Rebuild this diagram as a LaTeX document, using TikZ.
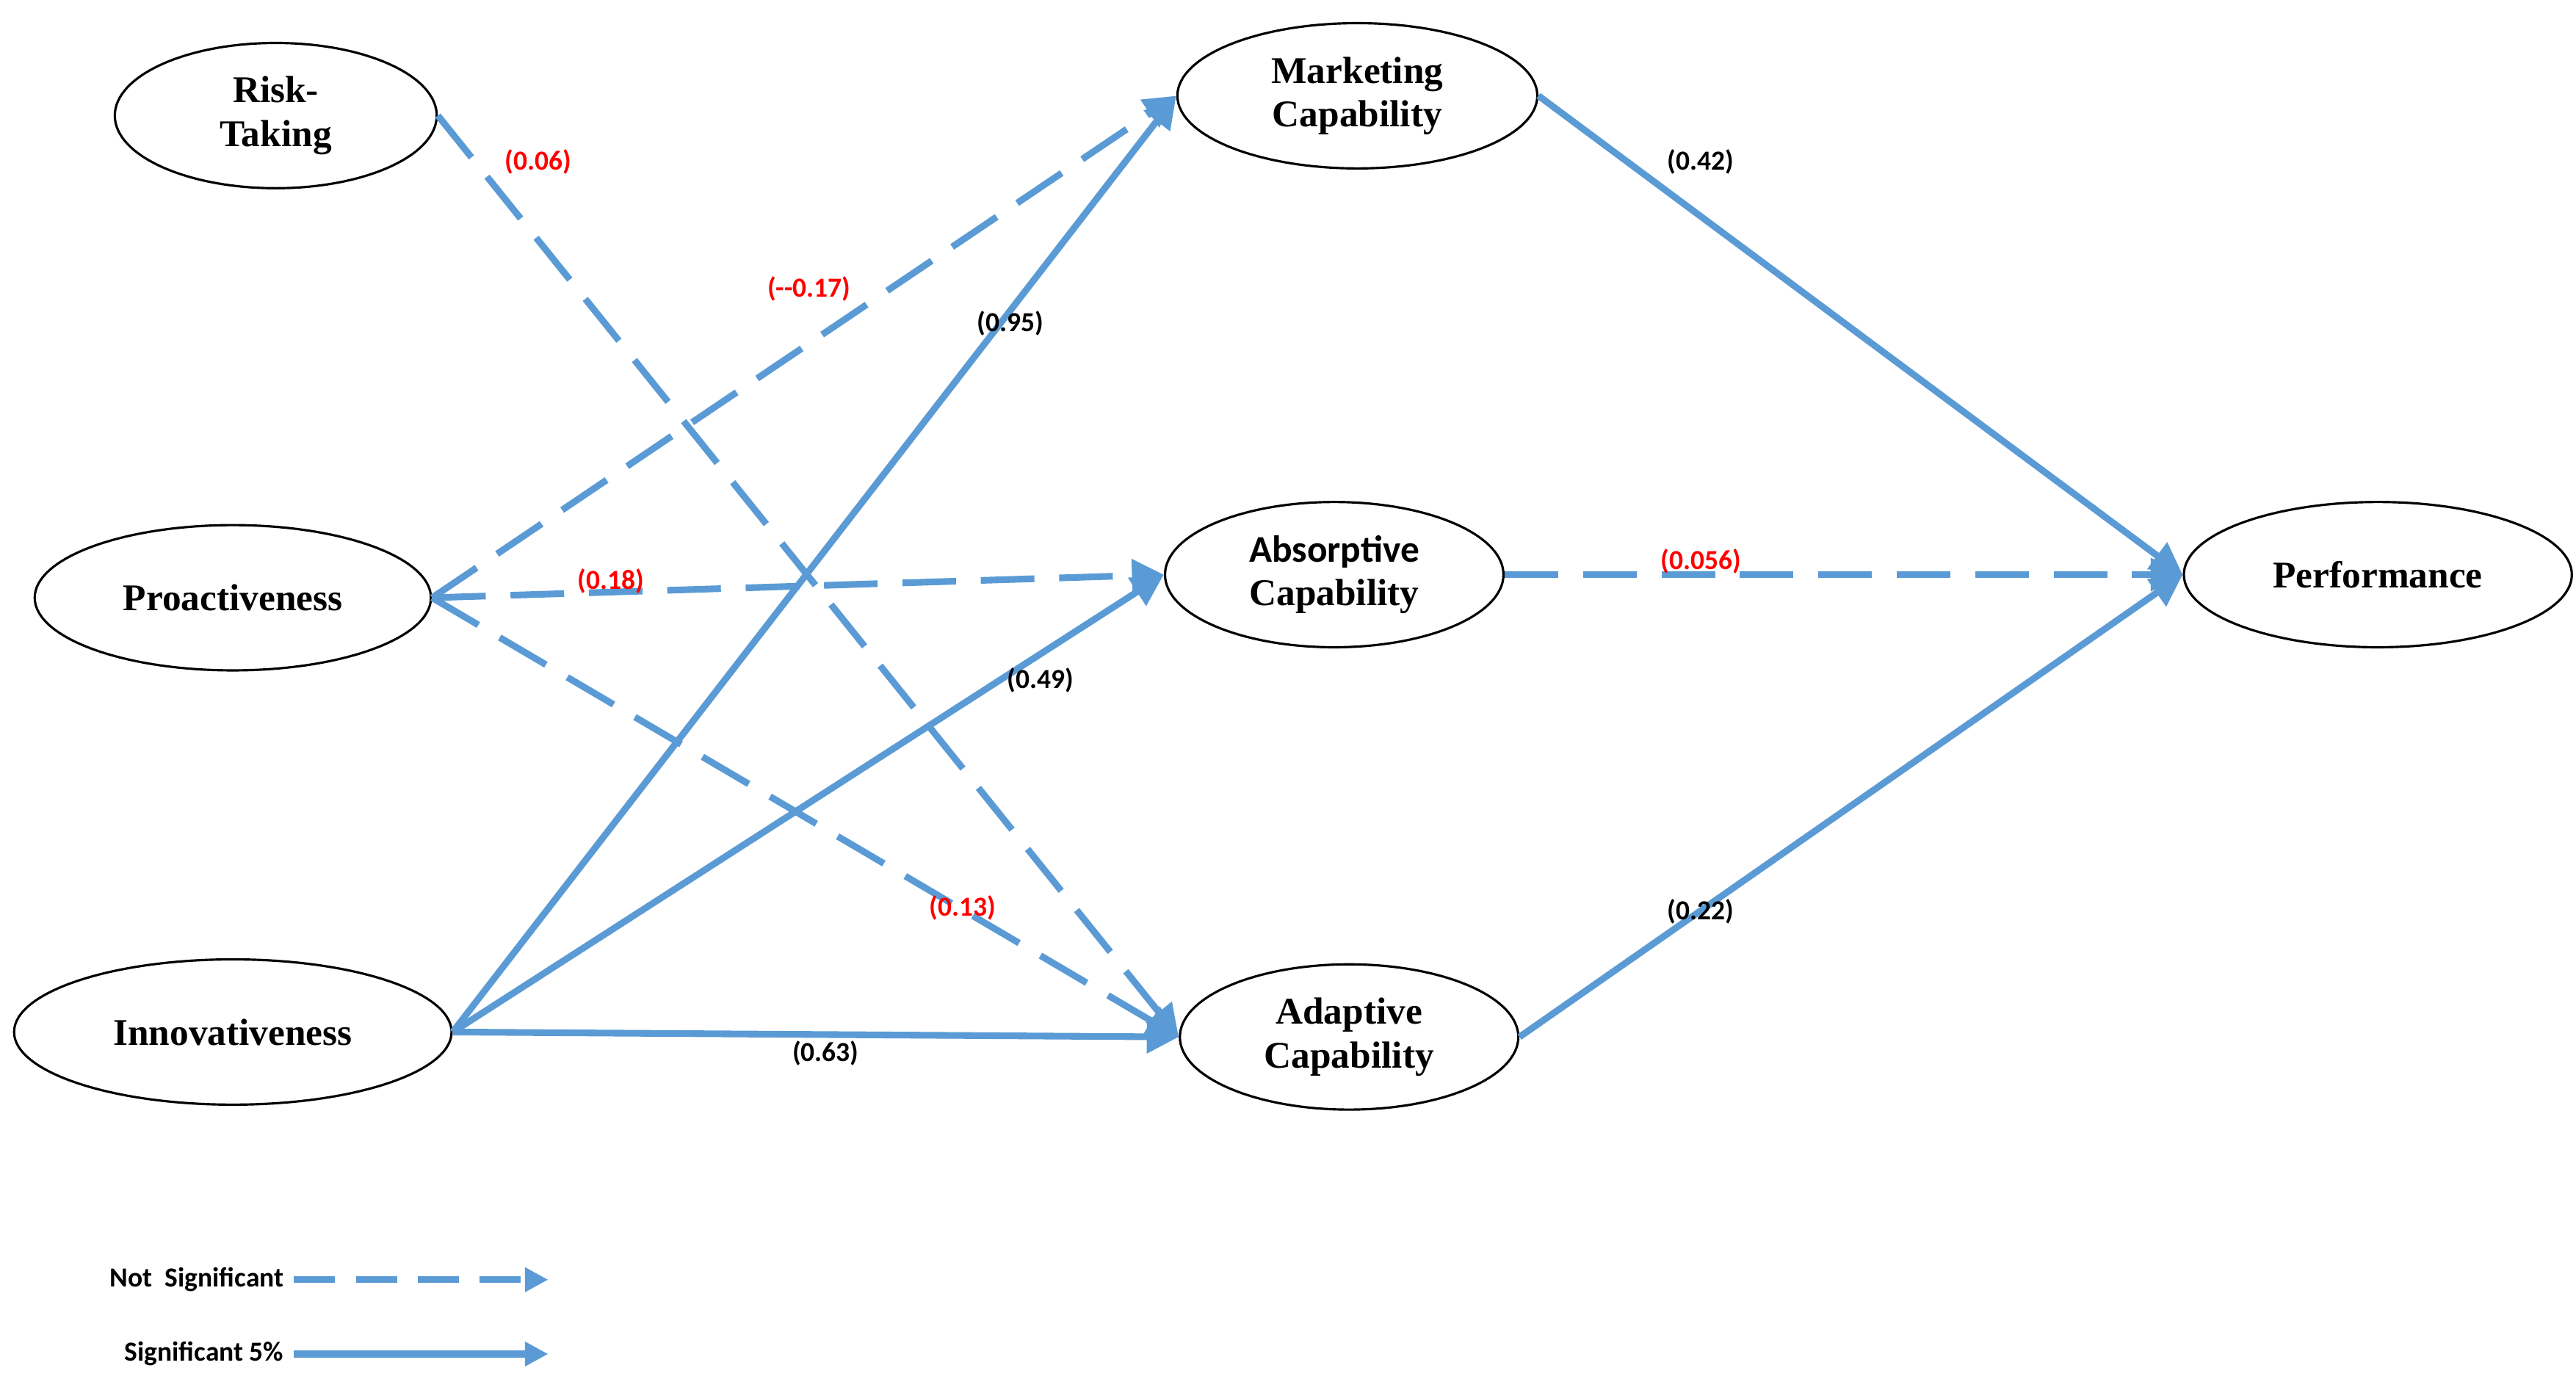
\documentclass[tikz,border=0pt]{standalone}
\usepackage{fontspec}
\setmainfont{Liberation Serif}
\newfontfamily\lblfont{Carlito}
\usetikzlibrary{arrows.meta,shapes.geometric}
\definecolor{pathblue}{RGB}{91,155,213}
\definecolor{lblred}{RGB}{255,0,0}

\begin{document}
\begin{tikzpicture}[x=0.02cm,y=-0.02cm,
  construct/.style={draw, thick, ellipse, inner sep=0pt, minimum height=1.76cm, align=center, font=\bfseries\fontsize{13}{15}\selectfont},
  sig/.style={pathblue, line width=2.3pt, -{Triangle[length=11pt,width=11pt]}},
  nsig/.style={sig, dash pattern=on 0.65cm off 0.3cm},
  coef/.style={font=\lblfont\bfseries\fontsize{9.5}{11}\selectfont},
  ncoef/.style={coef, text=lblred}]
\useasboundingbox (0,0) rectangle (1560,835);
% constructs
\node [construct, minimum width=3.9cm] (risk) at (167,70) {Risk-\\Taking};
\node [construct, minimum width=4.8cm] (proact) at (141,362) {Proactiveness};
\node [construct, minimum width=5.3cm] (innov) at (141,625) {Innovativeness};
\node [construct, minimum width=4.36cm] (mkt) at (822,58) {Marketing\\Capability};
\node [construct, minimum width=4.1cm] (absorb) at (808,348) {{\lblfont Absorptive}\\Capability};
\node [construct, minimum width=4.1cm] (adapt) at (817,628) {Adaptive\\Capability};
\node [construct, minimum width=4.7cm] (perf) at (1440,348) {Performance};
% paths
\draw [nsig] (risk.east) -- (adapt.west);
\draw [nsig] (proact.east) -- (mkt.west);
\draw [nsig] (proact.east) -- (absorb.west);
\draw [nsig] (proact.east) -- (adapt.west);
\draw [sig] (innov.east) -- (mkt.west);
\draw [sig] (innov.east) -- (absorb.west);
\draw [sig] (innov.east) -- (adapt.west);
\draw [sig] (mkt.east) -- (perf.west);
\draw [nsig] (absorb.east) -- (perf.west);
\draw [sig] (adapt.east) -- (perf.west);
% coefficients
\node [ncoef] (c1) at (326,98) {(0.06)};
\node [ncoef] (c2) at (490,175) {(--0.17)};
\node [ncoef] (c3) at (370,352) {(0.18)};
\node [ncoef] (c4) at (583,550) {(0.13)};
\node [coef] (c5) at (612,196) {(0.95)};
\node [coef] (c6) at (630,412) {(0.49)};
\node [coef] (c7) at (500,638) {(0.63)};
\node [coef] (c8) at (1030,98) {(0.42)};
\node [ncoef] (c9) at (1030,340) {(0.056)};
\node [coef] (c10) at (1030,552) {(0.22)};
% legend
\node [coef, anchor=east] (lgn) at (178,775) {Not\ \ Significant};
\node [coef, anchor=east] (lgs) at (178,820) {Significant 5\%};
\coordinate (lgnend) at (332,775);
\coordinate (lgsend) at (332,820);
\draw [nsig, dash pattern=on 0.5cm off 0.25cm, -{Triangle[length=8pt,width=8pt]}] (lgn.east) -- (lgnend);
\draw [sig, -{Triangle[length=8pt,width=8pt]}] (lgs.east) -- (lgsend);
\end{tikzpicture}
\end{document}
